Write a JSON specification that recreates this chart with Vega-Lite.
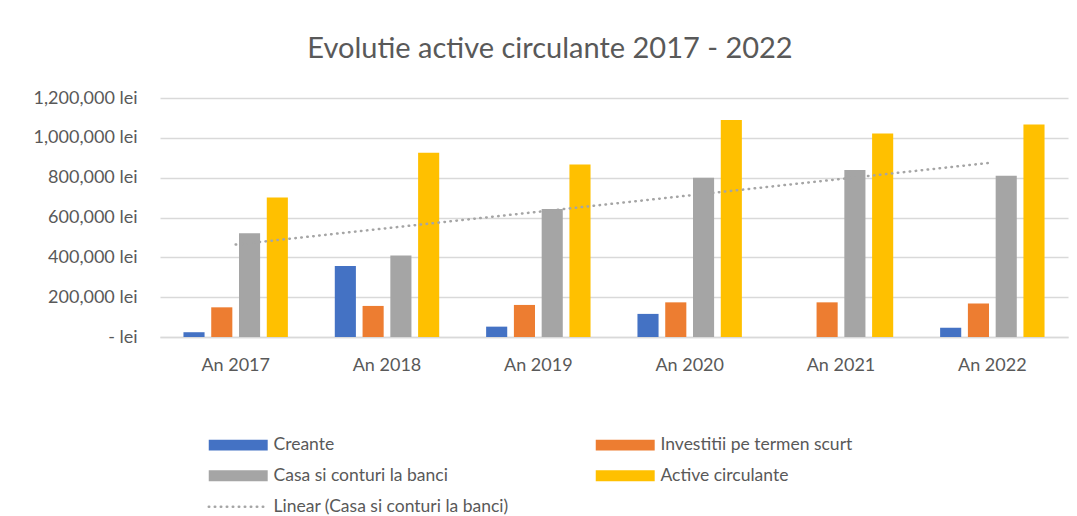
{
  "$schema": "https://vega.github.io/schema/vega-lite/v6.json",
  "autosize": {"type": "none"},
  "width": 908,
  "height": 239,
  "padding": {"left": 160, "top": 98, "right": 9, "bottom": 179},
  "background": "white",
  "title": {
    "text": "Evolutie active circulante 2017 - 2022",
    "font": "Lato",
    "fontSize": 29,
    "fontWeight": "normal",
    "color": "#595959",
    "anchor": "middle",
    "frame": "group",
    "dx": -64,
    "baseline": "alphabetic",
    "offset": 2
  },
  "config": {
    "view": {"stroke": null},
    "font": "Lato",
    "axis": {"labelFont": "Lato", "labelColor": "#595959", "labelFontSize": 18},
    "axisY": {"labelOverlap": false, "labelFlush": false}
  },
  "data": {
    "values": [
      {"An": "An 2017", "idx": 1, "serie": "Creante", "value": 24000},
      {"An": "An 2017", "idx": 1, "serie": "Investitii pe termen scurt", "value": 149000},
      {"An": "An 2017", "idx": 1, "serie": "Casa si conturi la banci", "value": 521000},
      {"An": "An 2017", "idx": 1, "serie": "Active circulante", "value": 700000},
      {"An": "An 2018", "idx": 2, "serie": "Creante", "value": 357000},
      {"An": "An 2018", "idx": 2, "serie": "Investitii pe termen scurt", "value": 156000},
      {"An": "An 2018", "idx": 2, "serie": "Casa si conturi la banci", "value": 409000},
      {"An": "An 2018", "idx": 2, "serie": "Active circulante", "value": 925000},
      {"An": "An 2019", "idx": 3, "serie": "Creante", "value": 52000},
      {"An": "An 2019", "idx": 3, "serie": "Investitii pe termen scurt", "value": 161000},
      {"An": "An 2019", "idx": 3, "serie": "Casa si conturi la banci", "value": 643000},
      {"An": "An 2019", "idx": 3, "serie": "Active circulante", "value": 866000},
      {"An": "An 2020", "idx": 4, "serie": "Creante", "value": 116000},
      {"An": "An 2020", "idx": 4, "serie": "Investitii pe termen scurt", "value": 174000},
      {"An": "An 2020", "idx": 4, "serie": "Casa si conturi la banci", "value": 799000},
      {"An": "An 2020", "idx": 4, "serie": "Active circulante", "value": 1090000},
      {"An": "An 2021", "idx": 5, "serie": "Creante", "value": 0},
      {"An": "An 2021", "idx": 5, "serie": "Investitii pe termen scurt", "value": 174000},
      {"An": "An 2021", "idx": 5, "serie": "Casa si conturi la banci", "value": 838000},
      {"An": "An 2021", "idx": 5, "serie": "Active circulante", "value": 1022000},
      {"An": "An 2022", "idx": 6, "serie": "Creante", "value": 47000},
      {"An": "An 2022", "idx": 6, "serie": "Investitii pe termen scurt", "value": 168000},
      {"An": "An 2022", "idx": 6, "serie": "Casa si conturi la banci", "value": 809000},
      {"An": "An 2022", "idx": 6, "serie": "Active circulante", "value": 1067000}
    ]
  },
  "layer": [
    {
      "mark": {"type": "bar"},
      "encoding": {
        "x": {
          "field": "An",
          "type": "nominal",
          "sort": null,
          "scale": {"paddingInner": 0.31, "paddingOuter": 0.155},
          "axis": {
            "title": null,
            "labelAngle": 0,
            "ticks": false,
            "domainColor": "#D9D9D9",
            "domainWidth": 1.5,
            "labelPadding": 19,
            "labelBaseline": "top"
          }
        },
        "xOffset": {
          "field": "serie",
          "type": "nominal",
          "scale": {
            "domain": ["Creante", "Investitii pe termen scurt", "Casa si conturi la banci", "Active circulante"],
            "paddingInner": 0.24,
            "paddingOuter": 0
          }
        },
        "y": {
          "field": "value",
          "type": "quantitative",
          "scale": {"domain": [0, 1200000], "nice": false},
          "axis": {
            "title": null,
            "values": [0, 200000, 400000, 600000, 800000, 1000000, 1200000],
            "labelExpr": "datum.value === 0 ? '-  lei' : format(datum.value, ',') + ' lei'",
            "labelOverlap": false,
            "domain": false,
            "ticks": false,
            "labelPadding": 23,
            "gridColor": "#D9D9D9",
            "gridWidth": 1.5
          }
        },
        "color": {
          "field": "serie",
          "type": "nominal",
          "scale": {
            "domain": ["Creante", "Investitii pe termen scurt", "Casa si conturi la banci", "Active circulante", "Linear (Casa si conturi la banci)"],
            "range": ["#4472C4", "#ED7D31", "#A5A5A5", "#FFC000", "#A5A5A5"]
          },
          "legend": {
            "title": null,
            "orient": "none",
            "direction": "horizontal",
            "legendX": 49,
            "legendY": 338,
            "columns": 2,
            "columnPadding": 86,
            "rowPadding": 12,
            "padding": 0,
            "symbolSize": 324,
            "labelOffset": 47,
            "labelFont": "Lato",
            "labelFontSize": 17.5,
            "labelColor": "#595959",
            "labelLimit": 400,
            "encode": {
              "symbols": {
                "update": {
                  "shape": {"signal": "datum.value === 'Linear (Casa si conturi la banci)' ? 'M-1,0H5.55' : 'M-1,-0.6H5.55V0.6H-1Z'"},
                  "fill": {"signal": "datum.value === 'Linear (Casa si conturi la banci)' ? 'transparent' : scale('color', datum.value)"},
                  "stroke": {"signal": "datum.value === 'Linear (Casa si conturi la banci)' ? '#A5A5A5' : 'transparent'"},
                  "strokeDash": {"signal": "datum.value === 'Linear (Casa si conturi la banci)' ? [0.5, 5.5] : [1, 0]"},
                  "strokeCap": {"value": "round"},
                  "strokeWidth": {"signal": "datum.value === 'Linear (Casa si conturi la banci)' ? 2.5 : 0"},
                  "opacity": {"value": 1}
                }
              }
            }
          }
        }
      }
    },
    {
      "transform": [
        {"filter": "datum.serie === 'Casa si conturi la banci'"},
        {"regression": "value", "on": "idx", "method": "linear"}
      ],
      "mark": {"type": "line", "strokeDash": [0.5, 5.5], "strokeCap": "round", "strokeWidth": 2.5},
      "encoding": {
        "x": {
          "field": "idx",
          "type": "quantitative",
          "scale": {"domain": [0.5, 6.5], "nice": false, "zero": false},
          "axis": null
        },
        "y": {
          "field": "value",
          "type": "quantitative",
          "axis": {
            "title": null,
            "values": [0, 200000, 400000, 600000, 800000, 1000000, 1200000],
            "labelExpr": "datum.value === 0 ? '-  lei' : format(datum.value, ',') + ' lei'",
            "labelOverlap": false,
            "domain": false,
            "ticks": false,
            "labelPadding": 23,
            "gridColor": "#D9D9D9",
            "gridWidth": 1.5
          }
        },
        "color": {"datum": "Linear (Casa si conturi la banci)"}
      }
    }
  ],
  "resolve": {"scale": {"x": "independent"}, "axis": {"x": "independent"}}
}
